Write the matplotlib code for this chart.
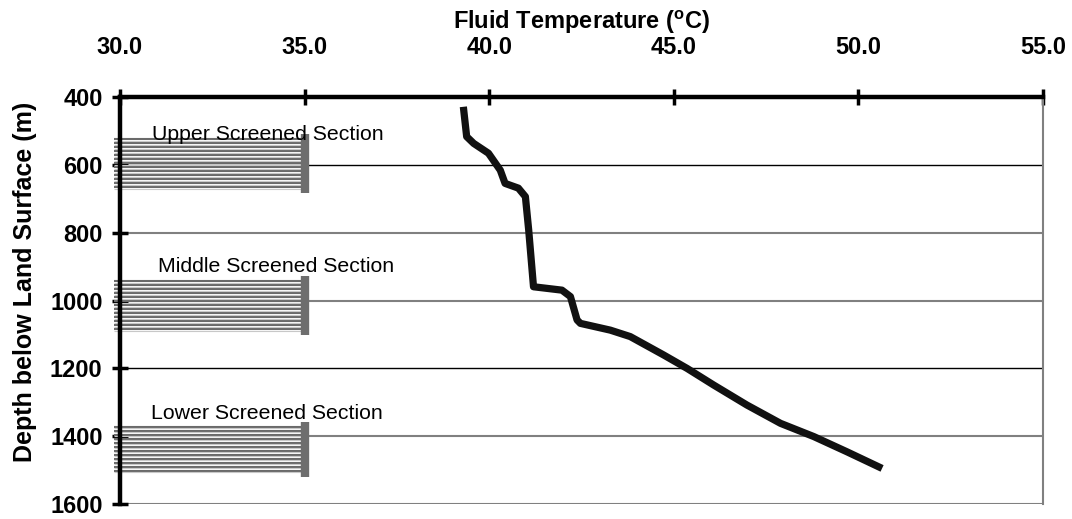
import numpy as np
import matplotlib
matplotlib.use("Agg")
import matplotlib.pyplot as plt

plt.rcParams["font.family"] = ["Liberation Sans", "DejaVu Sans"]
plt.rcParams["mathtext.fontset"] = "custom"
plt.rcParams["mathtext.rm"] = "Liberation Sans"
plt.rcParams["mathtext.bf"] = "Liberation Sans:bold"

# temperature profile
temp = [39.30, 39.39, 39.58, 39.98, 40.30, 40.43, 40.79, 40.98, 41.07, 41.20,
        41.97, 42.20, 42.38, 42.47, 43.28, 43.82, 44.72, 45.36, 46.08, 46.98,
        47.89, 48.79, 49.69, 50.64]
depth = [428, 516, 536, 565, 615, 654, 668, 693, 792, 959,
         969, 988, 1057, 1067, 1087, 1106, 1160, 1200, 1249, 1308,
         1362, 1401, 1446, 1495]

# screened sections
section_names = ["Upper Screened Section", "Middle Screened Section", "Lower Screened Section"]
section_top = [521, 939, 1369]
section_bottom = [671, 1089, 1509]
label_temp = [30.87, 31.03, 30.84]
label_depth = [510, 898, 1332]

x_ticks = [30.0, 35.0, 40.0, 45.0, 50.0, 55.0]
y_ticks = [400, 600, 800, 1000, 1200, 1400, 1600]
grid_colors = ["#000000", "#808080", "#808080", "#000000", "#808080", "#808080"]

fig = plt.figure(figsize=(10.72, 5.19), dpi=100)
ax = fig.add_axes([0.1119, 0.0289, 0.973 - 0.1119, 0.8125 - 0.0289])

ax.set_xlim(30, 55)
ax.set_ylim(1600, 400)

for yv, c in zip(y_ticks[1:], grid_colors):
    ax.axhline(yv, color=c, lw=1.0 if c == "#000000" else 1.5, zorder=1)

# hatched screen sections
for top, bot in zip(section_top, section_bottom):
    ys = np.arange(top + 3, bot - 2, 11.8)
    ax.hlines(ys, 29.85, 35, color="#6a6a6a", lw=1.5, zorder=2, clip_on=False)
    ax.hlines(ys + 4.5, 29.85, 35, color="#c8c8c8", lw=0.8, zorder=2, clip_on=False)
    ax.vlines(35, top - 12, bot + 12, color="#6e6e6e", lw=6, zorder=3)

for name, tx, ty in zip(section_names, label_temp, label_depth):
    ax.text(tx, ty, name, fontsize=15.3, va="center", ha="left", zorder=4)

ax.plot(temp, depth, color="#111111", lw=5.2, solid_capstyle="butt",
        solid_joinstyle="round", zorder=5)

ax.xaxis.tick_top()
ax.xaxis.set_label_position("top")
ax.set_xticks(x_ticks)
ax.set_xticklabels([f"{v:.1f}" for v in x_ticks], fontsize=17, fontweight="bold")
ax.set_yticks(y_ticks)
ax.set_yticklabels([str(v) for v in y_ticks], fontsize=17, fontweight="bold")
ax.tick_params(axis="x", direction="inout", length=11, width=2.5, pad=22)
ax.tick_params(axis="y", direction="inout", length=11, width=2.5, pad=7)

ax.set_xlabel("Fluid Temperature ($^{\\mathbf{o}}$C)", fontsize=17, fontweight="bold", labelpad=5)
ax.set_ylabel("Depth below Land Surface (m)", fontsize=18, fontweight="bold")
ax.yaxis.set_label_coords(-0.09, 0.545)

ax.spines["top"].set_linewidth(3.2)
ax.spines["left"].set_linewidth(3.2)
ax.spines["right"].set_color("#808080")
ax.spines["right"].set_linewidth(1.5)
ax.spines["bottom"].set_visible(False)

fig.savefig("out.png", dpi=100)
plt.close(fig)
